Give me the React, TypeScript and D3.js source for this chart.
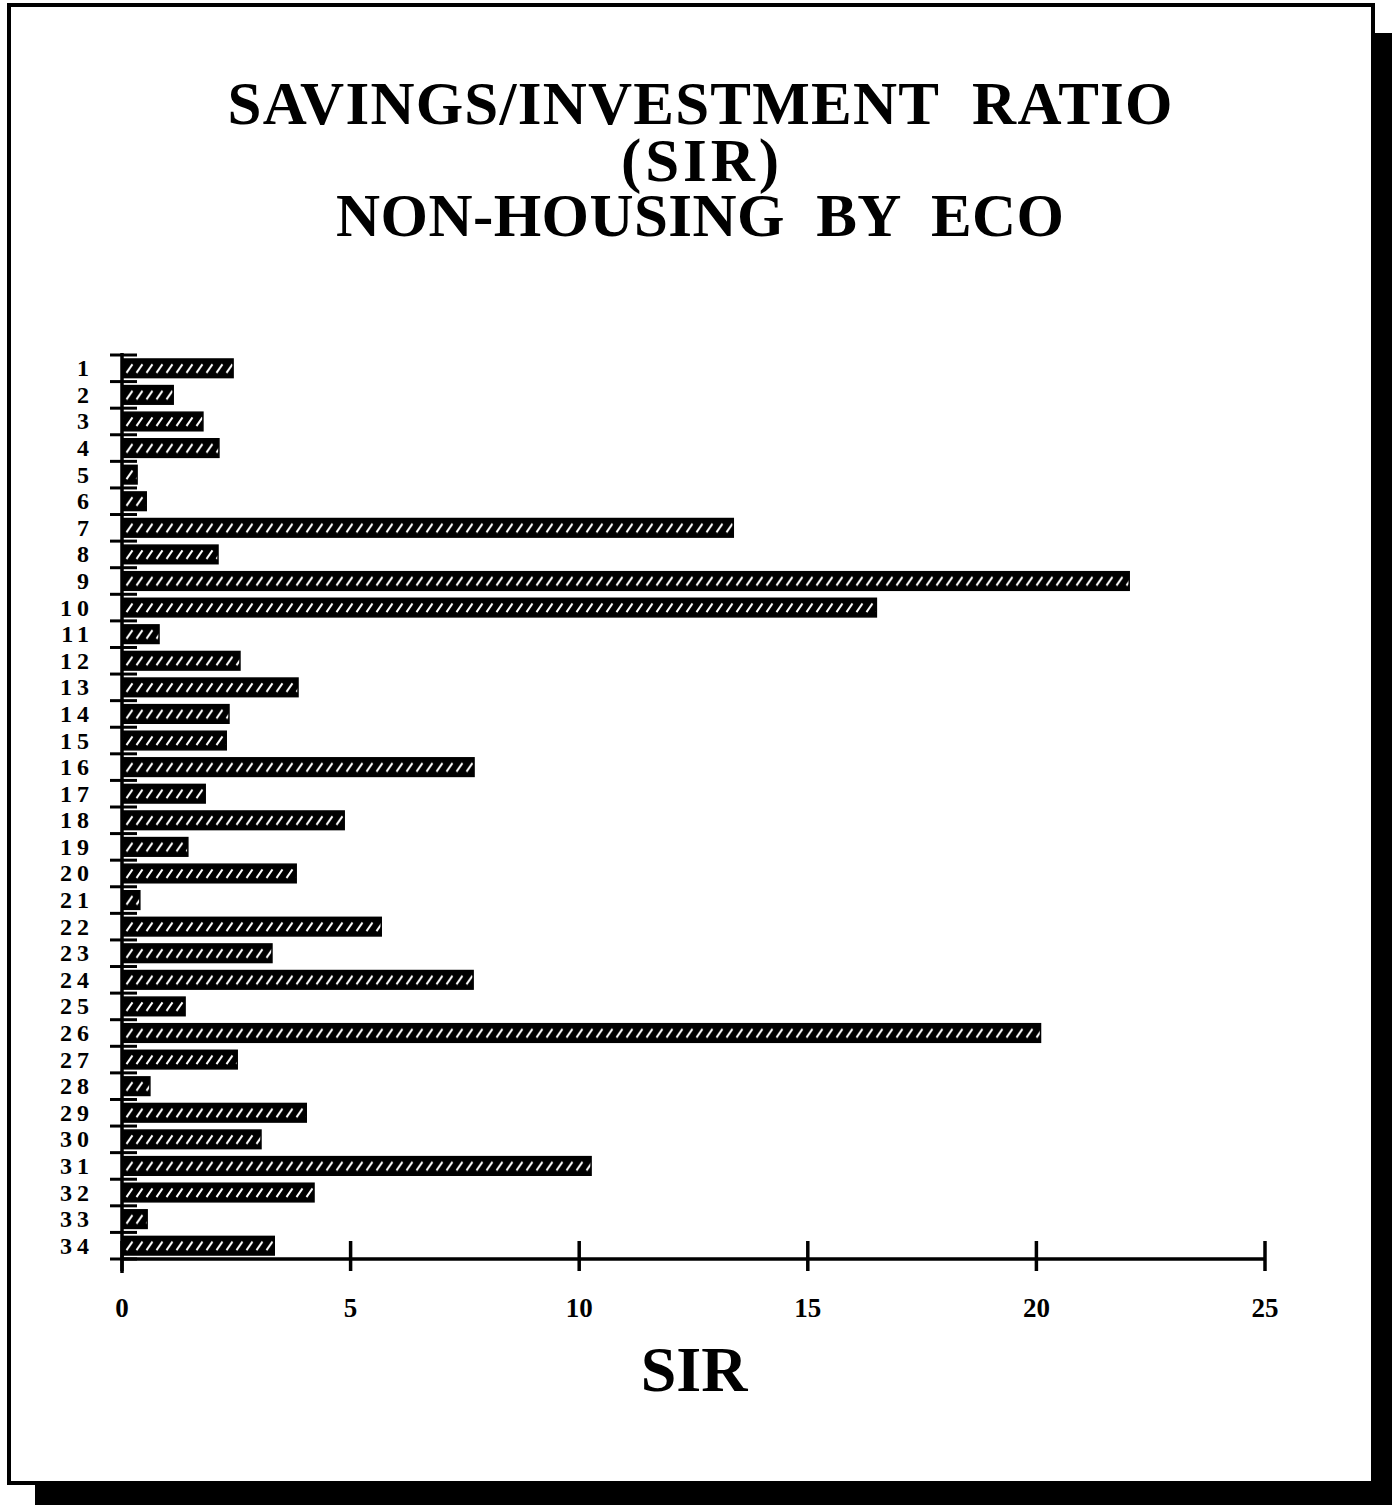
import React from "react";
import * as d3 from "d3";

// ECO numbers 1..34 and their SIR (non-housing)
const ecoLabels = d3.range(1, 35).map(String);
const sirValues = [
  2.43, 1.12, 1.77, 2.12, 0.33, 0.53, 13.37, 2.1, 22.03, 16.5,
  0.81, 2.58, 3.85, 2.34, 2.28, 7.7, 1.82, 4.86, 1.44, 3.81,
  0.39, 5.67, 3.28, 7.68, 1.38, 20.09, 2.52, 0.61, 4.03, 3.04,
  10.26, 4.2, 0.55, 3.33,
];
const xTicks = [0, 5, 10, 15, 20, 25];
const titleLines = ["SAVINGS/INVESTMENT  RATIO", "(SIR)", "NON-HOUSING  BY  ECO"];

const W = 1392;
const H = 1505;
const serif = "'Liberation Serif', 'Times New Roman', serif";

export default function App() {
  const x = d3.scaleLinear().domain([0, 25]).range([122, 1265]);
  const y = d3.scaleBand().domain(ecoLabels).range([355, 1259]).paddingInner(0.3).paddingOuter(0.15);
  const step = y.step();
  const bw = y.bandwidth();
  const data = ecoLabels.map((eco, i) => ({ eco, v: sirValues[i] }));

  // title widths
  const titleSpec = [
    { y: 124, len: 945 },
    { y: 181, len: 158 },
    { y: 236, len: 728 },
  ];

  return (
    <svg width={W} height={H} style={{ display: "block", position: "absolute", left: 0, top: 0 }}>
      <defs>
        {data.map((d, i) => (
          <pattern
            key={i}
            id={`hatch${i}`}
            patternUnits="userSpaceOnUse"
            x={x(0) + 2}
            y={y(d.eco)}
            width={10}
            height={bw}
          >
            <rect width={10} height={bw} fill="#000" />
            <line x1={2.5} x2={8.5} y1={bw * 0.74} y2={bw * 0.28} stroke="#fff" strokeWidth={2} />
          </pattern>
        ))}
      </defs>

      <rect x={0} y={0} width={W} height={H} fill="#fff" />
      {/* drop shadow */}
      <rect x={1372} y={33} width={20} height={1472} fill="#000" />
      <rect x={35} y={1483} width={1357} height={22} fill="#000" />
      {/* frame */}
      <rect x={9} y={5} width={1364} height={1478} fill="none" stroke="#000" strokeWidth={4} />

      {titleLines.map((t, i) => (
        <text
          key={i}
          x={700}
          y={titleSpec[i].y}
          textAnchor="middle"
          fontFamily={serif}
          fontWeight="bold"
          fontSize={61}
          textLength={titleSpec[i].len}
          lengthAdjust="spacing"
          style={{ whiteSpace: "pre" }}
        >
          {t}
        </text>
      ))}

      {/* bars */}
      {data.map((d, i) => (
        <rect
          key={d.eco}
          x={x(0)}
          y={y(d.eco)}
          width={x(d.v) - x(0)}
          height={bw}
          fill={`url(#hatch${i})`}
          stroke="#000"
          strokeWidth={1.5}
        />
      ))}

      {/* y axis */}
      <line x1={x(0)} x2={x(0)} y1={353} y2={1273} stroke="#000" strokeWidth={3.5} />
      {d3.range(ecoLabels.length + 1).map((k) => {
        const ty = 355 + k * step;
        return <line key={k} x1={110} x2={137} y1={ty} y2={ty} stroke="#000" strokeWidth={3} />;
      })}
      {data.map((d) => (
        <text
          key={d.eco}
          x={d.eco.length > 1 ? 94 : 89}
          y={(y(d.eco) ?? 0) + bw / 2 + 8}
          textAnchor="end"
          fontFamily={serif}
          fontWeight="bold"
          fontSize={24}
          letterSpacing={d.eco.length > 1 ? 5 : 0}
          style={{ whiteSpace: "pre" }}
        >
          {d.eco}
        </text>
      ))}

      {/* x axis */}
      <line x1={x(0)} x2={x(25)} y1={1259} y2={1259} stroke="#000" strokeWidth={3.5} />
      {xTicks.map((t) => (
        <g key={t}>
          <line x1={x(t)} x2={x(t)} y1={1241} y2={1271} stroke="#000" strokeWidth={3.5} />
          <text x={x(t)} y={1317} textAnchor="middle" fontFamily={serif} fontWeight="bold" fontSize={27}>
            {t}
          </text>
        </g>
      ))}
      <text x={694} y={1391} textAnchor="middle" fontFamily={serif} fontWeight="bold" fontSize={64}>
        SIR
      </text>
    </svg>
  );
}
